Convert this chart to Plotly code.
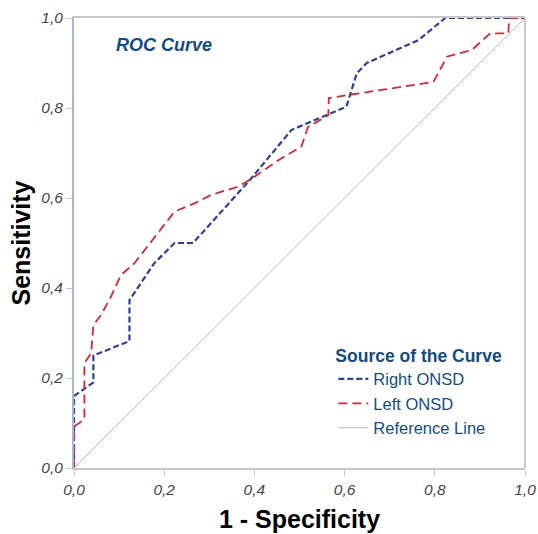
import plotly.graph_objects as go

right_fpr = [0.0, 0.0, 0.043, 0.043, 0.123, 0.123, 0.178, 0.223, 0.264, 0.39, 0.482, 0.516, 0.604, 0.627, 0.649, 0.764, 0.823, 1.0]
right_tpr = [0.0, 0.16, 0.19, 0.25, 0.282, 0.373, 0.455, 0.5, 0.5, 0.64, 0.751, 0.766, 0.803, 0.877, 0.9, 0.951, 1.0, 1.0]

left_fpr = [0.0, 0.0, 0.023, 0.023, 0.038, 0.043, 0.06, 0.082, 0.104, 0.134, 0.223, 0.267, 0.304, 0.364, 0.397, 0.453, 0.504, 0.519, 0.564, 0.565, 0.616, 0.797, 0.827, 0.882, 0.923, 0.963, 0.965, 1.0]
left_tpr = [0.0, 0.092, 0.108, 0.233, 0.255, 0.318, 0.34, 0.381, 0.429, 0.455, 0.57, 0.588, 0.607, 0.625, 0.645, 0.684, 0.714, 0.758, 0.784, 0.822, 0.83, 0.858, 0.914, 0.929, 0.966, 0.966, 1.0, 1.0]

ref_x = [0.0, 1.0]
ref_y = [0.0, 1.0]

tick_vals = [0.0, 0.2, 0.4, 0.6, 0.8, 1.0]

BLUE_TXT = "#0f4c8a"
FONT = "Liberation Sans, Arial, sans-serif"

fig = go.Figure()
fig.add_trace(go.Scatter(x=right_fpr, y=right_tpr, mode="lines", name="Right ONSD",
                         line=dict(color="#2b3f9e", width=2.2, dash="6px,3px")))
fig.add_trace(go.Scatter(x=left_fpr, y=left_tpr, mode="lines", name="Left ONSD",
                         line=dict(color="#e3222f", width=1.8, dash="9px,5px")))
fig.add_trace(go.Scatter(x=ref_x, y=ref_y, mode="lines", name="Reference Line",
                         line=dict(color="#b8b8b8", width=1)))

fig.update_layout(
    width=538, height=534,
    margin=dict(l=74, r=13, t=18, b=66),
    paper_bgcolor="white", plot_bgcolor="white",
    separators=",.",
    font=dict(family=FONT),
    showlegend=True,
    legend=dict(
        x=0.575, y=0.287, xanchor="left", yanchor="top",
        bgcolor="rgba(0,0,0,0)",
        font=dict(size=16.5, color=BLUE_TXT, family=FONT),
        title=dict(text="<b>Source of the Curve</b>", font=dict(size=17.5, color=BLUE_TXT, family=FONT)),
        tracegroupgap=0, itemwidth=30,
    ),
)

fig.update_xaxes(
    range=[0, 1], tickvals=tick_vals, tickformat=".1f", automargin=False,
    showgrid=False, zeroline=False,
    showline=True, linecolor="#c8c8c8", linewidth=2, mirror=True,
    ticks="outside", ticklen=6, tickcolor="#c8c8c8", tickwidth=1,
    tickfont=dict(size=15.5, color="#444444", family=FONT, style="italic"),
    title=dict(text="<b>1 - Specificity</b>", font=dict(size=25, color="black", family=FONT), standoff=14),
)
fig.update_yaxes(
    range=[0, 1], tickvals=tick_vals, tickformat=".1f", automargin=False,
    showgrid=False, zeroline=False,
    showline=True, linecolor="#a9b7d3", linewidth=2, mirror=False,
    ticks="outside", ticklen=6, tickcolor="#c8c8c8", tickwidth=1,
    tickfont=dict(size=15.5, color="#444444", family=FONT, style="italic"),
    title=dict(text="<b>Sensitivity</b>", font=dict(size=25, color="black", family=FONT), standoff=4),
)

fig.add_shape(type="line", xref="paper", yref="paper", x0=1, x1=1, y0=0, y1=1,
              line=dict(color="#c8c8c8", width=2))

fig.add_annotation(text="<b><i>ROC Curve</i></b>", xref="paper", yref="paper",
                   x=0.2, y=0.94, xanchor="center", yanchor="middle", showarrow=False,
                   font=dict(size=18, color=BLUE_TXT, family=FONT))

fig.write_html("out.html", config={"displayModeBar": False},
               post_script="document.body.style.margin='0';document.body.style.overflow='hidden';")
